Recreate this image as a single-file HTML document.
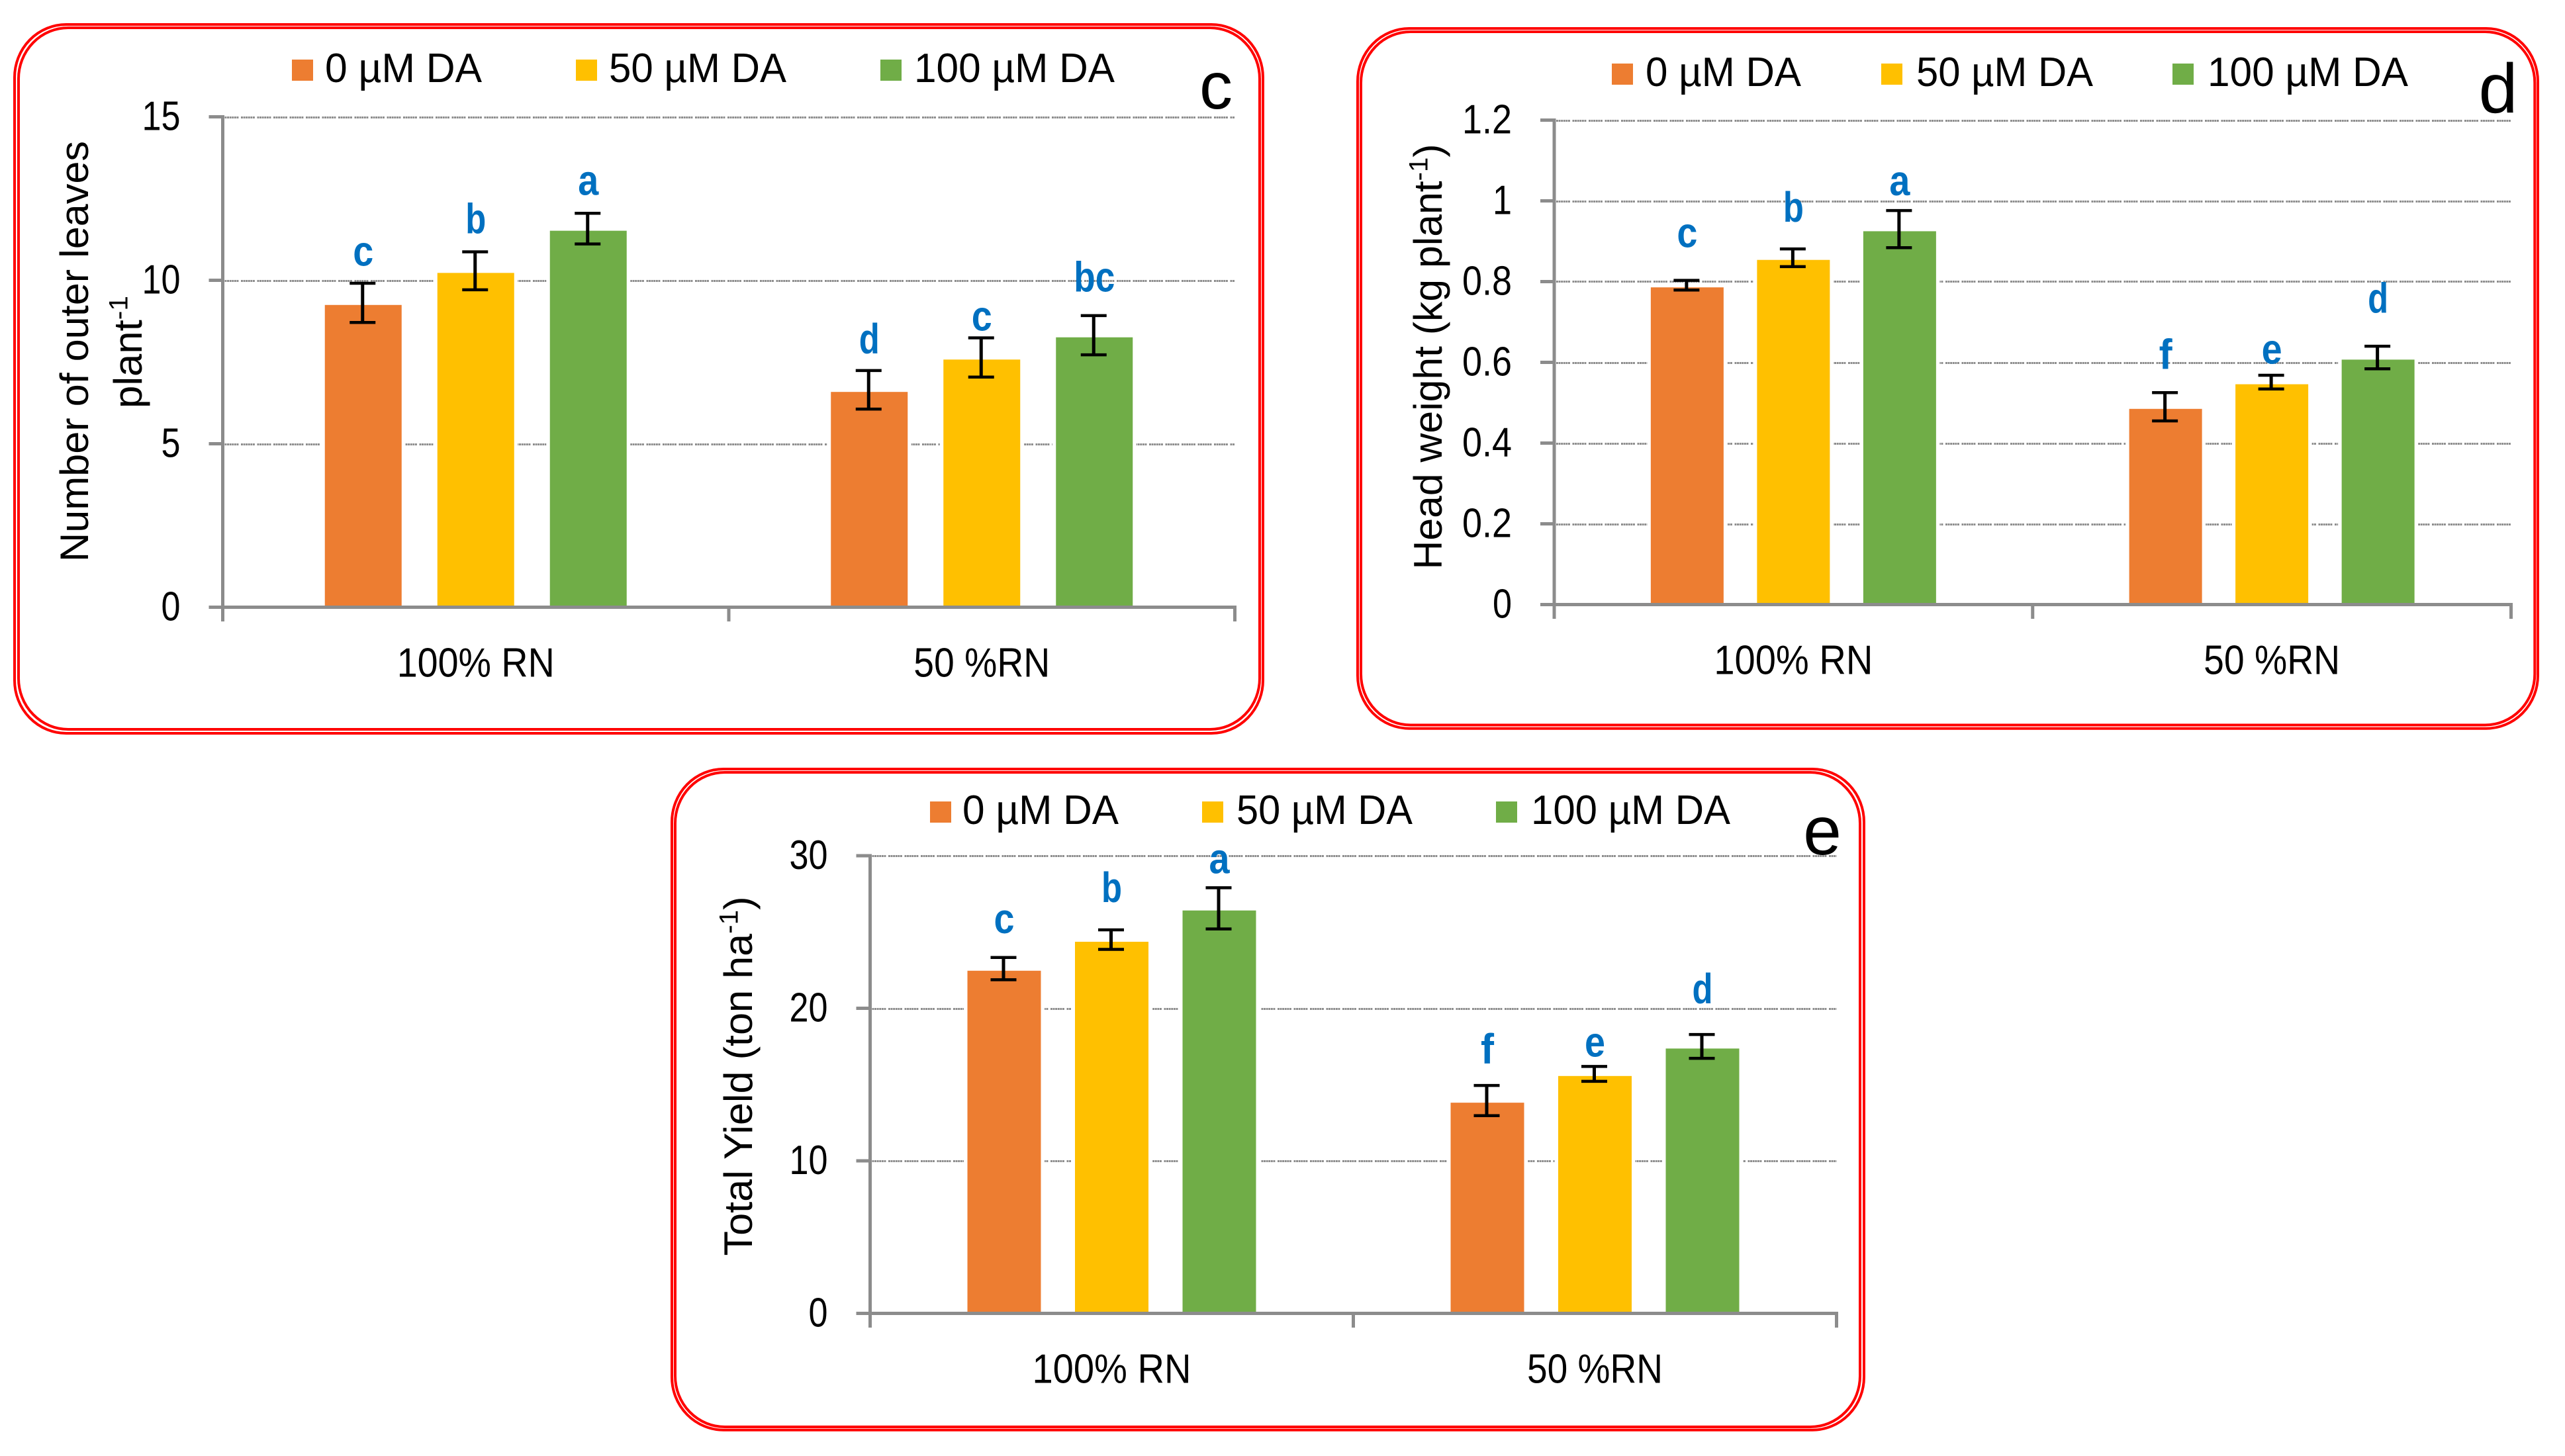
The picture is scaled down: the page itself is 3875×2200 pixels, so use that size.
<!DOCTYPE html>
<html lang="en">
<head>
<meta charset="utf-8">
<title>Lettuce growth and yield charts</title>
<style>
html,body{margin:0;padding:0;background:#fff;width:3875px;height:2200px;overflow:hidden}
svg{display:block}
text{font-family:"Liberation Sans",sans-serif;fill:#000}
</style>
</head>
<body>
<svg id="figure" xmlns="http://www.w3.org/2000/svg" width="3875" height="2200" viewBox="0 0 3875 2200">
<rect x="0" y="0" width="3875" height="2200" fill="#ffffff"/>
</svg>
<script>
const categories = ['100% RN', '50 %RN'];
const seriesNames = ['0 µM DA', '50 µM DA', '100 µM DA'];
const seriesColors = ['#ED7D31', '#FFC000', '#70AD47'];

const cTicks = ['0', '5', '10', '15'];
const cValues = [9.31, 10.29, 11.58, 6.65, 7.64, 8.32];
const cErrors = [0.6, 0.58, 0.47, 0.59, 0.6, 0.6];
const cLetters = ['c', 'b', 'a', 'd', 'c', 'bc'];
const cLetterLift = [0.54, 0.57, 0.56, 0.52, 0.22, 0.74];

const dTicks = ['0', '0.2', '0.4', '0.6', '0.8', '1', '1.2'];
const dValues = [0.791, 0.859, 0.93, 0.49, 0.551, 0.612];
const dErrors = [0.012, 0.022, 0.046, 0.035, 0.017, 0.028];
const dLetters = ['c', 'b', 'a', 'f', 'e', 'd'];
const dLetterLift = [0.082, 0.067, 0.038, 0.059, 0.029, 0.083];

const eTicks = ['0', '10', '20', '30'];
const eValues = [22.6, 24.5, 26.55, 13.95, 15.7, 17.5];
const eErrors = [0.73, 0.64, 1.35, 0.99, 0.49, 0.78];
const eLetters = ['c', 'b', 'a', 'f', 'e', 'd'];
const eLetterLift = [1.6, 1.82, 0.96, 1.43, 0.65, 2.04];

const SVG_NS = 'http://www.w3.org/2000/svg';
const root = document.getElementById('figure');

function make(tag, attrs, parent) {
  const node = document.createElementNS(SVG_NS, tag);
  for (const key in attrs) node.setAttribute(key, attrs[key]);
  parent.appendChild(node);
  return node;
}

function line(parent, x1, y1, x2, y2, stroke, width, dash) {
  const attrs = {x1: x1, y1: y1, x2: x2, y2: y2, stroke: stroke, 'stroke-width': width};
  if (dash) attrs['stroke-dasharray'] = dash;
  return make('line', attrs, parent);
}

function label(parent, content, x, y, size, anchor, fit, fill, weight) {
  const attrs = {x: x, y: y, 'font-size': size, 'text-anchor': anchor};
  if (fit) {
    attrs.textLength = fit;
    attrs.lengthAdjust = 'spacingAndGlyphs';
  }
  if (fill) attrs.style = 'fill:' + fill;
  if (weight) attrs['font-weight'] = weight;
  const node = make('text', attrs, parent);
  node.textContent = content;
  return node;
}

function tickWidth(text) {
  return text.replace(/\./g, '').length * 29 + (text.indexOf('.') >= 0 ? 17 : 0);
}

function letterWidth(text) {
  return text === 'f' ? 20 : text.length * 31;
}

const GRID_DASH = '2.9 0.7 2.9 0.7 2.9 0.7 2.9 0.7 2.9 0.7 2.9 3.6';
const AXIS = '#8C8C8C';

function drawPanel(cfg, ticks, values, errors, letters, lifts) {
  const g = make('g', {}, root);
  
  

  const outer = make('rect', {x: cfg.outer[0], y: cfg.outer[1], width: cfg.outer[2] - cfg.outer[0], height: cfg.outer[3] - cfg.outer[1], rx: 78, ry: 80, fill: 'none', stroke: '#FF0000', 'stroke-width': 4}, g);
  
  
  const inner = make('rect', {x: cfg.inner[0], y: cfg.inner[1], width: cfg.inner[2] - cfg.inner[0], height: cfg.inner[3] - cfg.inner[1], rx: 75, ry: 77, fill: 'none', stroke: '#FF0000', 'stroke-width': 4}, g);
  
  

  const tickNumbers = ticks.map(Number);
  const maxTick = tickNumbers[tickNumbers.length - 1];
  const yScale = v => cfg.y0 - (v / maxTick) * (cfg.y0 - cfg.yTop);
  const band = (cfg.x1 - cfg.x0) / categories.length;
  const xCenter = i => cfg.x0 + (Math.floor(i / 3) + 0.5) * band + ((i % 3) - 1) * cfg.step;

  tickNumbers.forEach((t, i) => {
    if (t === 0) return;
    const gy = Math.round(yScale(t)) + 0.5;
    const grid = line(g, cfg.x0 + 3, gy, cfg.x1, gy, AXIS, 3, GRID_DASH);
    
    
  });

  values.forEach((v, i) => {
    const x = xCenter(i) - cfg.barW / 2;
    const top = yScale(v) + 3.2;
    const halo = make('rect', {x: x - 5.5, y: top - 5.5, width: cfg.barW + 11, height: cfg.y0 - top + 5.5, fill: '#ffffff'}, g);
    
    
    const bar = make('rect', {x: x, y: top, width: cfg.barW, height: cfg.y0 - top, fill: seriesColors[i % 3]}, g);
    
    
  });

  values.forEach((v, i) => {
    const cx = xCenter(i) - 1;
    const hi = yScale(v + errors[i]);
    const lo = yScale(v - errors[i]);
    const stem = line(g, cx, hi, cx, lo, '#000000', 5);
    
    
    const capTop = line(g, cx - 19.5, hi, cx + 19.5, hi, '#000000', 4.5);
    
    
    const capBottom = line(g, cx - 19.5, lo, cx + 19.5, lo, '#000000', 4.5);
    
    
    const letter = label(g, letters[i], xCenter(i), yScale(v + errors[i] + lifts[i]), 64, 'middle', letterWidth(letters[i]), '#0070C0', 'bold');
    
    
  });

  const yAxis = line(g, cfg.x0, cfg.yTop - 2.5, cfg.x0, cfg.y0, AXIS, 5);
  
  
  const xAxis = line(g, cfg.x0 - 21, cfg.y0, cfg.x1 + 2.5, cfg.y0, AXIS, 5);
  
  

  tickNumbers.forEach((t, i) => {
    const mark = line(g, cfg.x0 - 21, yScale(t), cfg.x0, yScale(t), AXIS, 5);
    
    
    const text = label(g, ticks[i], cfg.x0 - 64, yScale(t) + 20, 62, 'end', tickWidth(ticks[i]));
    
    
  });

  for (let i = 0; i <= categories.length; i++) {
    const xt = cfg.x0 + i * band;
    const mark = line(g, xt, cfg.y0, xt, cfg.y0 + 21.5, AXIS, 5);
    
    
  }

  categories.forEach((name, i) => {
    const text = label(g, name, cfg.x0 + (i + 0.5) * band, cfg.y0 + 105, 62, 'middle', cfg.catWidths[i]);
    
    
  });

  seriesNames.forEach((name, i) => {
    const swatch = make('rect', {x: cfg.legendSwatchX[i], y: cfg.legendY, width: 32, height: 32, fill: seriesColors[i]}, g);
    
    
    const text = label(g, name, cfg.legendTextX[i], cfg.legendY + 34, 62, 'start', cfg.legendWidths[i]);
    
    
  });

  const letter = label(g, cfg.id, cfg.tagX, cfg.tagY, cfg.tagSize, 'middle', null);
  
  

  return g;
}

function rotatedTitle(parent, x, y, size, parts, fit) {
  const attrs = {x: 0, y: 0, 'font-size': size, 'text-anchor': 'middle', transform: 'translate(' + x + ' ' + y + ') rotate(-90)'};
  if (fit) {
    attrs.textLength = fit;
    attrs.lengthAdjust = 'spacingAndGlyphs';
  }
  const node = make('text', attrs, parent);
  parts.forEach(part => {
    const span = make('tspan', part.sup ? {'font-size': size * 0.66, dy: -size * 0.36} : (part.after ? {dy: size * 0.36} : {}), node);
    span.textContent = part.text;
  });
  return node;
}

const panelC = drawPanel({
  id: 'c', x0: 336.5, x1: 1865.5, yTop: 176.5, y0: 917.5, barW: 116, step: 170,
  outer: [22, 37, 1908, 1108], inner: [28, 42, 1903, 1102],
  catWidths: [238, 206],
  legendSwatchX: [441, 870, 1330], legendTextX: [491, 920, 1381], legendWidths: [237, 268, 303], legendY: 90,
  tagX: 1837, tagY: 164, tagSize: 100
}, cTicks, cValues, cErrors, cLetters, cLetterLift);

const panelD = drawPanel({
  id: 'd', x0: 2348, x1: 3793.5, yTop: 181.5, y0: 913.5, barW: 110, step: 160.5,
  outer: [2051, 43, 3834, 1100.7], inner: [2056, 48, 3829.3, 1095.5],
  catWidths: [240, 206],
  legendSwatchX: [2435, 2842, 3282], legendTextX: [2486, 2895, 3335], legendWidths: [235, 267, 303], legendY: 96,
  tagX: 3774, tagY: 170, tagSize: 106
}, dTicks, dValues, dErrors, dLetters, dLetterLift);

const panelE = drawPanel({
  id: 'e', x0: 1314.5, x1: 2774.5, yTop: 1293, y0: 1984.5, barW: 111, step: 162.5,
  outer: [1015, 1162, 2816, 2160.7], inner: [1020, 1167, 2810, 2156],
  catWidths: [240, 205],
  legendSwatchX: [1405, 1816, 2260], legendTextX: [1454, 1868, 2313], legendWidths: [236, 266, 301], legendY: 1211,
  tagX: 2753, tagY: 1291, tagSize: 104
}, eTicks, eValues, eErrors, eLetters, eLetterLift);

const titleC1 = rotatedTitle(panelC, 133, 531, 60, [{text: 'Number of outer leaves'}], 636);


const titleC2 = rotatedTitle(panelC, 214, 532, 60, [{text: 'plant'}, {text: '-1', sup: true}], 170);


const titleD = rotatedTitle(panelD, 2178, 539, 60, [{text: 'Head weight (kg plant'}, {text: '-1', sup: true}, {text: ')', after: true}], 643);


const titleE = rotatedTitle(panelE, 1136, 1626, 60, [{text: 'Total Yield (ton ha'}, {text: '-1', sup: true}, {text: ')', after: true}], 543);


</script>
</body>
</html>
